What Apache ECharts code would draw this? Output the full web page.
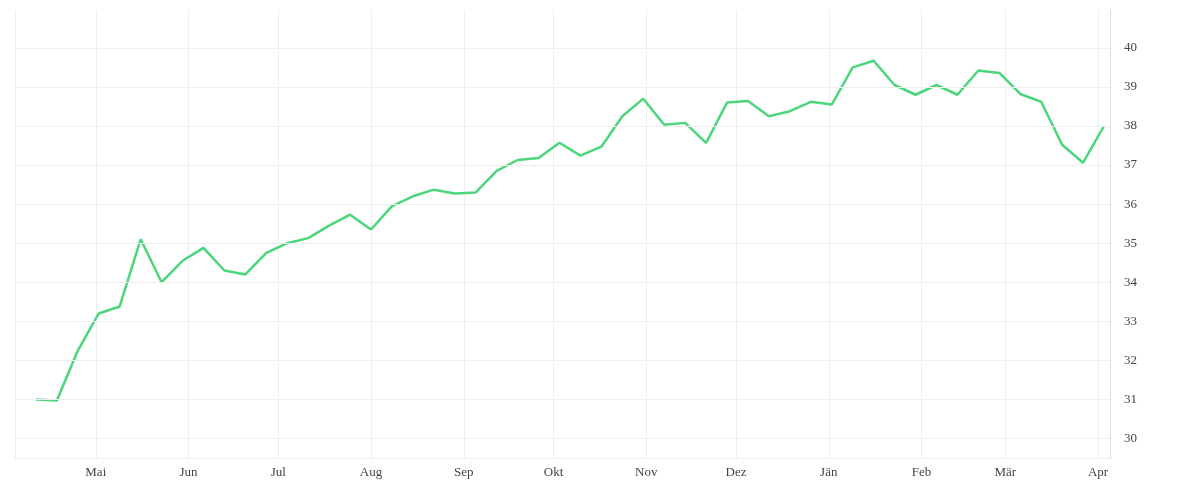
<!DOCTYPE html>
<html>
<head>
<meta charset="utf-8">
<script src="https://cdn.jsdelivr.net/npm/echarts@6/dist/echarts.min.js"></script>
<style>html,body{margin:0;padding:0;background:#fff}#chart{width:1200px;height:500px}</style>
</head>
<body>
<div id="chart"></div>
<script>
const startDate = "2021-04-11";
const monthNames = ["Jän", "Feb", "Mär", "Apr", "Mai", "Jun", "Jul", "Aug", "Sep", "Okt", "Nov", "Dez"];
const yTicks = [30, 31, 32, 33, 34, 35, 36, 37, 38, 39, 40];
const values = [
  31.0, 30.97, 32.25, 33.2, 33.38, 35.1, 34.0, 34.55, 34.88, 34.3, 34.2, 34.75, 35.0,
  35.13, 35.45, 35.73, 35.35, 35.95, 36.2, 36.37, 36.27, 36.3, 36.85, 37.13, 37.18, 37.57,
  37.24, 37.47, 38.25, 38.7, 38.03, 38.08, 37.57, 38.6, 38.64, 38.25, 38.38, 38.62, 38.55,
  39.5, 39.67, 39.05, 38.8, 39.05, 38.8, 39.42, 39.36, 38.82, 38.62, 37.52, 37.06, 38.0
];

const day = 86400000;
const t0 = Date.parse(startDate + "T00:00:00Z");
const data = values.map((v, i) => [t0 + i * 7 * day, v]);

const chart = echarts.init(document.getElementById("chart"));
chart.setOption({
  animation: false,
  grid: { left: 15, right: 90, top: 10, bottom: 42 },
  xAxis: {
    type: "time",
    min: t0 - 7 * day,
    max: t0 + 51 * 7 * day + 2 * day,
    splitNumber: 13,
    maxInterval: 31 * day,
    axisLine: { show: false },
    axisTick: { show: false },
    splitLine: { show: true, lineStyle: { color: "#eeeeee" } },
    axisLabel: {
      color: "#444",
      fontFamily: "Liberation Serif",
      fontSize: 13,
      hideOverlap: false,
      formatter: (val) => monthNames[new Date(val).getUTCMonth()]
    }
  },
  yAxis: {
    type: "value",
    position: "right",
    min: 29.5,
    max: 40.97,
    interval: 0.5,
    axisLine: { show: true, lineStyle: { color: "#dddddd" } },
    axisTick: { show: false },
    splitLine: { show: false },
    axisLabel: {
      color: "#444",
      fontFamily: "Liberation Serif",
      fontSize: 13,
      margin: 14,
      formatter: (v) => (Math.abs(v - Math.round(v)) < 1e-6 ? String(Math.round(v)) : "")
    }
  },
  series: [{
    type: "line",
    data: data,
    showSymbol: false,
    lineStyle: { color: "#4cd67b", width: 2.5 },
    itemStyle: { color: "#4cd67b" },
    markLine: {
      silent: true,
      symbol: "none",
      label: { show: false },
      lineStyle: { color: "#eeeeee", type: "solid", width: 1 },
      data: [29.5].concat(yTicks).map((v) => ({ yAxis: v }))
    },
    z: 3
  }]
});
</script>
</body>
</html>
